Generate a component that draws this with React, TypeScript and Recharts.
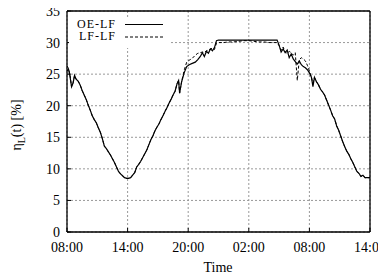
import React from 'react';
import { LineChart, Line, XAxis, YAxis, CartesianGrid, ReferenceLine } from 'recharts';

const hours = [
  0, 0.15, 0.3, 0.45, 0.6, 0.75, 0.9, 1.1, 1.3, 1.5,
  1.7, 1.9, 2.1, 2.3, 2.5, 2.7, 2.9, 3.1, 3.3, 3.5,
  3.7, 3.9, 4.1, 4.3, 4.5, 4.7, 4.9, 5.1, 5.3, 5.5,
  5.7, 5.9, 6.1, 6.3, 6.5, 6.7, 6.9, 7.1, 7.3, 7.5,
  7.7, 7.9, 8.1, 8.3, 8.5, 8.7, 8.9, 9.1, 9.3, 9.5,
  9.7, 9.9, 10.1, 10.3, 10.5, 10.7, 10.9, 11.05, 11.15, 11.35,
  11.6, 11.85, 12.1, 12.4, 12.7, 12.95, 13.2, 13.4, 13.6, 13.8,
  14.0, 14.2, 14.4, 14.6, 14.8, 15.0, 15.5, 16, 16.5, 17,
  17.5, 18, 18.5, 19, 19.5, 20, 20.5, 20.8, 21.0, 21.2,
  21.4, 21.6, 21.8, 22.0, 22.2, 22.4, 22.6, 22.8, 23.0, 23.2,
  23.4, 23.6, 23.8, 24.0, 24.2, 24.35, 24.5, 24.7, 24.9, 25.1,
  25.3, 25.5, 25.7, 25.9, 26.1, 26.3, 26.5, 26.7, 26.9, 27.1,
  27.3, 27.5, 27.7, 27.9, 28.1, 28.3, 28.5, 28.7, 28.9, 29.1,
  29.3, 29.5, 29.75, 30,
];

const oeLf = [
  25.5, 25.8, 24.6, 23.0, 23.6, 24.8, 24.2, 23.9, 23.3, 22.4,
  21.7, 21.0, 20.1, 19.3, 18.4, 17.8, 17.3, 16.5, 15.8, 14.8,
  13.6, 13.2, 12.7, 12.2, 11.6, 11.0, 10.3, 9.6, 9.2, 8.9,
  8.6, 8.5, 8.5, 8.6, 9.0, 9.4, 10.3, 10.7, 11.2, 11.8,
  12.4, 13.0, 13.8, 14.6, 15.2, 16.0, 16.6, 17.1, 17.8, 18.4,
  19.1, 19.7, 20.4, 21.0, 21.7, 22.3, 23.5, 24.0, 22.0, 23.8,
  25.2, 26.2, 26.5, 26.7, 26.9, 27.3, 27.8, 28.4, 27.8, 28.6,
  28.3, 29.0, 28.7, 29.2, 30.3, 30.4, 30.4, 30.4, 30.4, 30.4,
  30.4, 30.4, 30.4, 30.4, 30.4, 30.4, 30.4, 30.4, 29.6, 28.5,
  29.0, 28.4, 28.8, 27.6, 28.2, 27.4, 27.0, 26.6, 27.1, 26.5,
  26.2, 26.0, 25.7, 25.2, 24.5, 23.0, 24.5, 23.8, 23.3, 22.6,
  22.2, 21.7, 20.9, 20.1, 19.3, 18.4, 17.9, 16.8, 16.1, 15.2,
  14.3, 13.5, 12.8, 12.3, 11.6, 11.0, 10.3, 9.6, 9.3, 8.8,
  9.0, 8.6, 8.6, 8.6,
];

const lfLf = [
  26.3, 25.9, 24.9, 23.0, 23.6, 24.8, 24.2, 23.9, 23.3, 22.4,
  21.7, 21.0, 20.1, 19.3, 18.4, 17.8, 17.3, 16.5, 15.8, 14.8,
  13.6, 13.2, 12.7, 12.2, 11.6, 11.0, 10.3, 9.6, 9.2, 8.9,
  8.6, 8.5, 8.5, 8.6, 9.0, 9.4, 10.3, 10.7, 11.2, 11.8,
  12.4, 13.0, 13.8, 14.6, 15.2, 16.0, 16.6, 17.1, 17.8, 18.4,
  19.1, 19.7, 20.4, 21.0, 21.7, 22.3, 23.5, 24.0, 22.0, 23.8,
  25.6, 26.9, 27.2, 27.5, 28.0, 28.3, 28.4, 28.5, 28.4, 28.7,
  28.8, 29.0, 29.1, 28.9, 29.9, 30.0, 30.0, 30.1, 30.1, 30.2,
  30.3, 30.3, 30.2, 30.1, 30.1, 30.0, 30.0, 30.0, 29.5, 28.8,
  29.3, 28.5, 28.3, 28.6, 28.4, 28.0, 28.4, 24.0, 27.3, 27.6,
  27.4, 27.1, 26.4, 25.5, 24.5, 23.6, 24.5, 23.8, 23.3, 22.6,
  22.2, 21.7, 20.9, 20.1, 19.3, 18.4, 17.9, 16.8, 16.1, 15.2,
  14.3, 13.5, 12.8, 12.3, 11.6, 11.0, 10.3, 9.6, 9.3, 8.8,
  9.0, 8.6, 8.6, 8.6,
];

const xTicks = [0, 6, 12, 18, 24, 30];
const xTickLabels = ['08:00', '14:00', '20:00', '02:00', '08:00', '14:00'];
const yTicks = [0, 5, 10, 15, 20, 25, 30, 35];
const seriesNames = ['OE-LF', 'LF-LF'];

const data = hours.map((h, i) => ({ h, oe: oeLf[i], lf: lfLf[i] }));

const FONT = '"Liberation Serif", "Times New Roman", serif';

export default function App() {
  const tickStyle = { fontFamily: FONT, fontSize: 14, fill: '#000' };
  return (
    <div style={{ position: 'relative', top: -8, left: -8, width: 386, height: 275 }}>
      <LineChart
        width={386}
        height={275}
        data={data}
        margin={{ top: 11, right: 16, bottom: 13, left: 27 }}
      >
        <CartesianGrid stroke="#999" strokeDasharray="2 2" strokeWidth={1} />
        <XAxis
          dataKey="h"
          type="number"
          domain={[0, 30]}
          ticks={xTicks}
          interval={0}
          height={30}
          tickFormatter={(v: number) => xTickLabels[xTicks.indexOf(v)] ?? ''}
          tick={tickStyle}
          tickSize={-4}
          tickMargin={14}
          stroke="#000"
          axisLine={{ stroke: '#000', strokeWidth: 1.3 }}
          tickLine={{ stroke: '#000' }}
        />
        <YAxis
          type="number"
          domain={[0, 35]}
          ticks={yTicks}
          interval={0}
          width={40}
          tick={tickStyle}
          tickSize={-4}
          tickMargin={11}
          axisLine={{ stroke: '#000', strokeWidth: 1.3 }}
          tickLine={{ stroke: '#000' }}
        />
        <ReferenceLine y={35} stroke="#000" strokeWidth={1.3} />
        <ReferenceLine x={30} stroke="#000" strokeWidth={1.3} />
        <Line
          type="linear"
          dataKey="lf"
          name={seriesNames[1]}
          stroke="#000"
          strokeWidth={1}
          strokeDasharray="3 2"
          dot={false}
          activeDot={false}
          isAnimationActive={false}
        />
        <Line
          type="linear"
          dataKey="oe"
          name={seriesNames[0]}
          stroke="#000"
          strokeWidth={1.2}
          dot={false}
          activeDot={false}
          isAnimationActive={false}
        />
      </LineChart>
      <svg
        width={386}
        height={275}
        style={{ position: 'absolute', left: 0, top: 0, pointerEvents: 'none' }}
      >
        <rect x={69} y={17} width={101} height={31} fill="#fff" />
        <text x={116} y={27.5} textAnchor="end" fontFamily={FONT} fontSize={12} letterSpacing={1} fill="#000">
          {seriesNames[0]}
        </text>
        <line x1={125} y1={24.5} x2={163} y2={24.5} stroke="#000" strokeWidth={1.2} />
        <text x={116} y={40} textAnchor="end" fontFamily={FONT} fontSize={12} letterSpacing={1} fill="#000">
          {seriesNames[1]}
        </text>
        <line x1={125} y1={37} x2={163} y2={37} stroke="#000" strokeWidth={1} strokeDasharray="3 2" />
        <text
          transform="translate(21,125) rotate(-90)"
          textAnchor="middle"
          fontFamily={FONT}
          fontSize={14}
          fill="#000"
        >
          η<tspan dy={4} fontSize={10}>L</tspan>
          <tspan dy={-4}>(t) [%]</tspan>
        </text>
        <text x={218} y={272} textAnchor="middle" fontFamily={FONT} fontSize={14} fill="#000">
          Time
        </text>
      </svg>
    </div>
  );
}
